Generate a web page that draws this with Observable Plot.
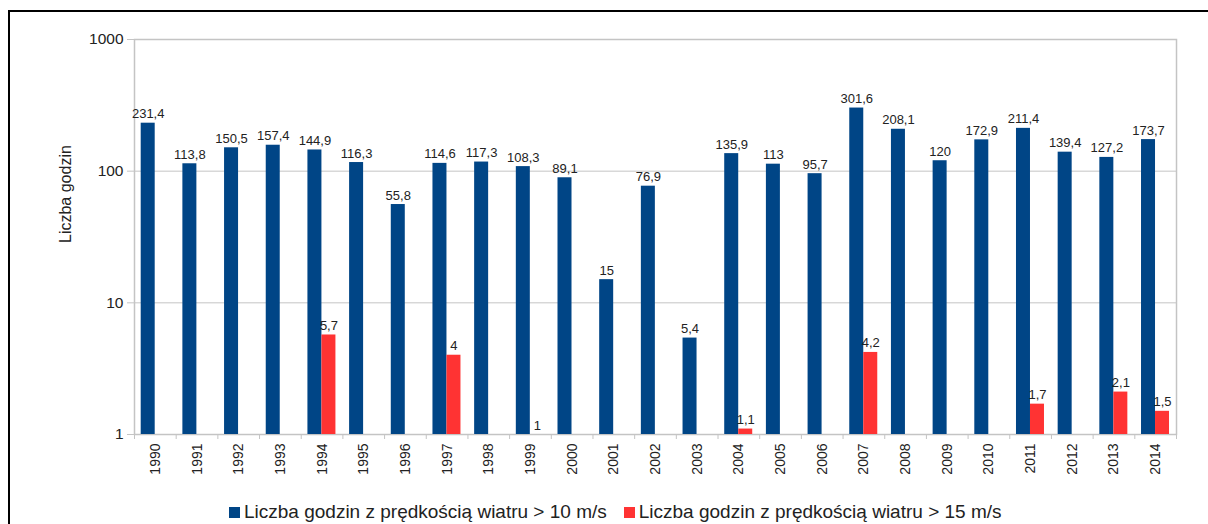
<!DOCTYPE html>
<html>
<head>
<meta charset="utf-8">
<script src="https://cdn.jsdelivr.net/npm/d3@7"></script>
<script src="https://cdn.jsdelivr.net/npm/@observablehq/plot@0.6"></script>
<style>
  html, body { margin: 0; padding: 0; background: #fff; }
  body { width: 1208px; height: 524px; overflow: hidden; position: relative; font-family: "Liberation Sans", Arial, sans-serif; }
  #border { position: absolute; left: 8px; top: 10px; width: 1300px; height: 600px; border-left: 2px solid #000; border-top: 2px solid #000; }
  #chart { position: absolute; left: 0; top: 0; }
  #legend { position: absolute; left: 229px; top: 501px; font-size: 19px; color: #222; white-space: nowrap; line-height: 22px; }
  #legend .sw { display: inline-block; width: 11px; height: 11px; margin-right: 4px; vertical-align: 0px; }
  #legend .item { display: inline-block; margin-right: 17px; }
</style>
</head>
<body>
<div id="border"></div>
<div id="chart"></div>
<div id="legend"></div>
<script>
const years = ["1990","1991","1992","1993","1994","1995","1996","1997","1998","1999","2000","2001","2002","2003","2004","2005","2006","2007","2008","2009","2010","2011","2012","2013","2014"];
const over10 = [231.4,113.8,150.5,157.4,144.9,116.3,55.8,114.6,117.3,108.3,89.1,15,76.9,5.4,135.9,113,95.7,301.6,208.1,120,172.9,211.4,139.4,127.2,173.7];
const over15 = [null,null,null,null,5.7,null,null,4,null,1,null,null,null,null,1.1,null,null,4.2,null,null,null,1.7,null,2.1,1.5];
const yTicks = [1,10,100,1000];
const seriesNames = ["Liczba godzin z prędkością wiatru > 10 m/s","Liczba godzin z prędkością wiatru > 15 m/s"];
const seriesColors = ["#004586","#ff3333"];
const yTitle = "Liczba godzin";

const rows = years.map((y, i) => ({year: y, v10: over10[i], v15: over15[i]}));
const rows15 = rows.filter(d => d.v15 != null);
const fmt = v => String(v).replace(".", ",");

const W = 1208, H = 490, ML = 134, MR = 32, MT = 39, MB = 56;
const bw = (W - ML - MR) / years.length;
const grid = "#c4c4c4";
const ink = "#222";

const chart = Plot.plot({
  width: W, height: H,
  marginLeft: ML, marginRight: MR, marginTop: MT, marginBottom: MB,
  style: {fontFamily: "Liberation Sans, Arial, sans-serif", background: "transparent", overflow: "visible"},
  x: {type: "band", domain: years, padding: 0, round: false, axis: null},
  y: {type: "log", domain: [1, 1000], axis: null},
  marks: [
    Plot.ruleY(yTicks, {stroke: grid, strokeWidth: 1}),
    Plot.frame({stroke: grid, strokeWidth: 1.5}),
    Plot.axisY({ticks: yTicks, tickFormat: d => String(d), tickSize: 7, tickPadding: 4, fontSize: 15.5, stroke: grid, fill: ink, label: null}),
    Plot.axisX({ticks: years, tickFormat: () => "", tickSize: 5, dx: -bw / 2, stroke: grid, label: null}),
    Plot.axisX({ticks: years.slice(-1), tickFormat: () => "", tickSize: 5, dx: bw / 2, stroke: grid, label: null}),
    Plot.axisX({ticks: years, tickSize: 0, tickPadding: 9, tickRotate: -90, fontSize: 14, fill: ink, label: null}),
    Plot.text([yTitle], {frameAnchor: "left", text: d => d, rotate: -90, dx: -69, dy: 6, fontSize: 16, fill: ink}),
    Plot.barY(rows, {x: "year", y1: 1, y2: "v10", fill: seriesColors[0], insetLeft: 6.7, insetRight: bw - 20.7}),
    Plot.barY(rows15, {x: "year", y1: 1, y2: "v15", fill: seriesColors[1], insetLeft: 20.7, insetRight: bw - 34.7}),
    Plot.text(rows, {x: "year", y: "v10", text: d => fmt(d.v10), dx: 13.7 - bw / 2, dy: -5, lineAnchor: "bottom", fontSize: 13, fill: ink}),
    Plot.text(rows15, {x: "year", y: "v15", text: d => fmt(d.v15), dx: 27.7 - bw / 2, dy: -5, lineAnchor: "bottom", fontSize: 13, fill: ink})
  ]
});
document.getElementById("chart").appendChild(chart);

const legend = document.getElementById("legend");
seriesNames.forEach((name, i) => {
  const item = document.createElement("span");
  item.className = "item";
  const sw = document.createElement("span");
  sw.className = "sw";
  sw.style.background = seriesColors[i];
  item.appendChild(sw);
  item.appendChild(document.createTextNode(name));
  legend.appendChild(item);
});
</script>
</body>
</html>
